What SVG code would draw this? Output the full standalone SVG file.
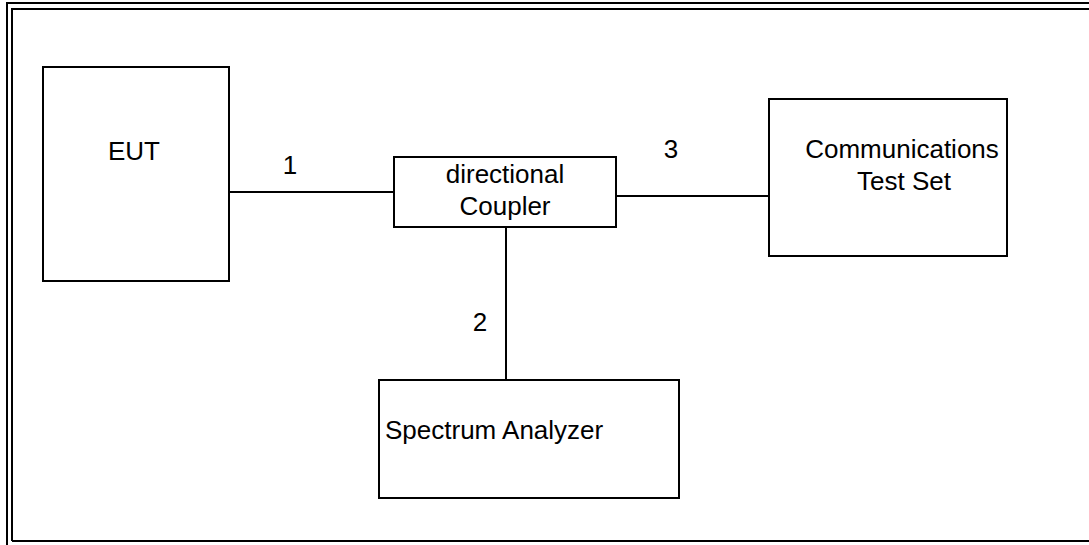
<svg xmlns="http://www.w3.org/2000/svg" width="1089" height="545" viewBox="0 0 1089 545">
<style>
.box{fill:#fff;stroke:#000;stroke-width:2}
.frame{fill:none;stroke:#000;stroke-width:2}
.ln{fill:none;stroke:#000;stroke-width:2}
text{font-family:"Liberation Sans",Arial,sans-serif;font-size:26px;fill:#000}
</style>
<rect width="1089" height="545" fill="#fff"/>
<g id="frame">
<path class="frame" d="M7,545 V3 H1089"/>
<path class="frame" d="M12,541 V9 H1089 M12,541 H1089"/>
</g>
<g id="connectors">
<line class="ln" x1="229" y1="192" x2="394" y2="192"/>
<line class="ln" x1="616" y1="196" x2="772" y2="196"/>
<line class="ln" x1="506" y1="227" x2="506" y2="380"/>
<text x="290" y="174" text-anchor="middle">1</text>
<text x="480" y="331" text-anchor="middle">2</text>
<text x="671" y="158" text-anchor="middle">3</text>
</g>
<g id="eut">
<rect class="box" x="43" y="67" width="186" height="214"/>
<text x="134" y="160" text-anchor="middle">EUT</text>
</g>
<g id="coupler">
<rect class="box" x="394" y="157" width="222" height="70"/>
<text x="505" y="183" text-anchor="middle">directional</text>
<text x="505" y="215" text-anchor="middle">Coupler</text>
</g>
<g id="cts">
<rect class="box" x="769" y="99" width="238" height="157"/>
<text x="902" y="158" text-anchor="middle">Communications</text>
<text x="904" y="190" text-anchor="middle">Test Set</text>
</g>
<g id="sa">
<rect class="box" x="379" y="380" width="300" height="118"/>
<text x="385" y="439">Spectrum Analyzer</text>
</g>
</svg>
